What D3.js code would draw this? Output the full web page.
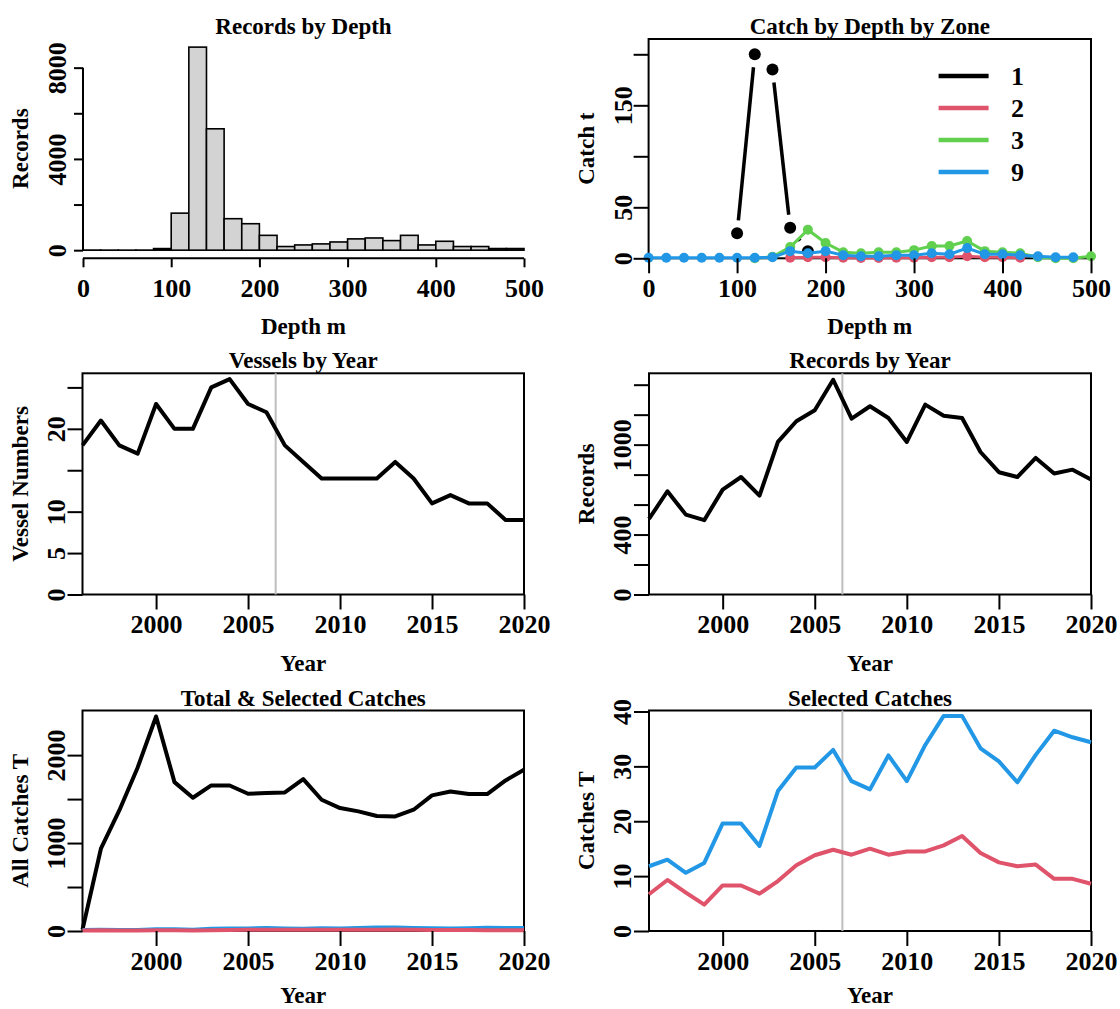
<!DOCTYPE html>
<html><head><meta charset="utf-8">
<script src="https://cdn.jsdelivr.net/npm/d3@7/dist/d3.min.js"></script>
<style>
body{margin:0;background:#fff}
svg text{font-family:"Liberation Serif","Times New Roman",serif;font-weight:bold;fill:#000}
</style>
</head><body>
<svg id="chart" width="1120" height="1009"></svg>
<script>
// ---------------- DATA ----------------
const depthBinStarts = [0,20,40,60,80,100,120,140,160,180,200,220,240,260,280,300,320,340,360,380,400,420,440,460,480];
const depthBinWidth = 20;
const depthCounts = [5,3,2,4,70,1623,8900,5320,1380,1160,650,160,230,275,360,495,535,420,650,230,390,160,160,72,72];

const zone1Depth = [100,120,140,160,180];
const zone1Catch = [24.5,200,185,30,7];
const zone2Depth = [160,180,200,220,240,260,280,300,320,340,360,380,400,420];
const zone2Catch = [0.5,1,1,0.5,0.3,0.3,0.5,0.5,1,1,2,1,1,0.5];
const zone3Depth = [120,140,160,180,200,220,240,260,280,300,320,340,360,380,400,420,440,460,480,500];
const zone3Catch = [0,1.5,11,28,15,6,5,6,6,8,12,12,17,7,6,5,1,0,0,2];
const zone9Depth = [0,20,40,60,80,100,120,140,160,180,200,220,240,260,280,300,320,340,360,380,400,420,440,460,480];
const zone9Catch = [0.5,0.5,0.5,0.5,0.5,0.5,0.5,1,7,5,7,3,2,2,3,3,5,4,10,4,4,3,2,1,1];
const zoneNames = ["1","2","3","9"];
const zoneColors = ["#000000","#DF536B","#61D04F","#2297E6"];

const years = [1996,1997,1998,1999,2000,2001,2002,2003,2004,2005,2006,2007,2008,2009,2010,2011,2012,2013,2014,2015,2016,2017,2018,2019,2020];
const vessels = [18,21,18,17,23,20,20,25,26,23,22,18,16,14,14,14,14,16,14,11,12,11,11,9,9];
const recordsByYear = [504,689,533,496,700,784,660,1018,1156,1229,1433,1173,1256,1178,1018,1267,1193,1178,951,816,784,911,807,833,767];
const totalCatch = [15,936,1371,1860,2439,1693,1515,1655,1655,1561,1568,1576,1727,1492,1398,1360,1307,1303,1379,1542,1587,1557,1557,1712,1833];
const zone9Selected = [11.8,13.0,10.6,12.4,19.6,19.6,15.5,25.5,29.8,29.8,33.0,27.3,25.8,32.0,27.3,33.9,39.2,39.2,33.3,30.9,27.1,32.1,36.5,35.3,34.4];
const zone2Selected = [6.7,9.3,7.0,4.8,8.3,8.3,6.8,9.1,12.0,13.8,14.8,13.9,15.0,13.9,14.5,14.5,15.6,17.3,14.2,12.5,11.8,12.1,9.5,9.5,8.6];
const refYear = 2006.5;

const depthTicks = [0,100,200,300,400,500];
const yearTicks = [2000,2005,2010,2015,2020];
const histYTicks = [0,2000,4000,6000,8000], histYLabels = [0,4000,8000];
const catchDepthYTicks = [0,50,100,150,200], catchDepthYLabels = [0,50,150];
const vesselYTicks = [0,5,10,15,20,25], vesselYLabels = [0,5,10,20];
const recordYTicks = [0,200,400,600,800,1000,1200,1400], recordYLabels = [0,400,1000];
const totalYTicks = [0,500,1000,1500,2000], totalYLabels = [0,1000,2000];
const selYTicks = [0,10,20,30,40], selYLabels = [0,10,20,30,40];

// ---------------- DRAW ----------------
const svg = d3.select("#chart");
const TICK = 15, TITLE_FS = 23, TICK_FS = 26;

function panel(p){
  const g = svg.append("g");
  g.append("text").attr("x",(p.l+p.r)/2).attr("y",p.t-5).attr("text-anchor","middle")
    .style("font-size",TITLE_FS+"px").text(p.title);
  g.append("text").attr("x",(p.l+p.r)/2).attr("y",Math.min(p.b+76,1003)).attr("text-anchor","middle")
    .style("font-size",TITLE_FS+"px").text(p.xlab);
  g.append("text").attr("transform",`translate(${p.l-55},${(p.t+p.b)/2}) rotate(-90)`).attr("text-anchor","middle")
    .style("font-size",TITLE_FS+"px").text(p.ylab);
  return g;
}

function xAxis(g, x, yPos, ticks, tlen){
  const ax = d3.axisBottom(x).tickValues(ticks).tickSize(tlen).tickSizeOuter(0).tickFormat(d3.format("d"));
  const a = g.append("g").attr("transform",`translate(0,${yPos})`).call(ax);
  a.select(".domain").remove();
  a.selectAll(".tick line").attr("stroke","#000").attr("stroke-width",2);
  a.selectAll(".tick text").attr("y",38.5).attr("dy",null).style("font-size",TICK_FS+"px")
    .style("font-family",'"Liberation Serif",serif').style("font-weight","bold").attr("fill","#000");
  return a;
}
function yAxis(g, y, xPos, ticks, labels, tlen, off){
  const ax = d3.axisLeft(y).tickValues(ticks).tickSize(tlen).tickSizeOuter(0)
    .tickFormat(d => labels.includes(d) ? String(d) : "");
  const a = g.append("g").attr("transform",`translate(${xPos},0)`).call(ax);
  a.select(".domain").remove();
  a.selectAll(".tick line").attr("stroke","#000").attr("stroke-width",2);
  a.selectAll(".tick text").attr("x",null).attr("dy",null).attr("text-anchor","middle")
    .attr("transform",`translate(${-off},0) rotate(-90)`).style("font-size",TICK_FS+"px")
    .style("font-family",'"Liberation Serif",serif').style("font-weight","bold").attr("fill","#000");
  return a;
}
function box(g,p){
  g.append("rect").attr("x",p.l).attr("y",p.t).attr("width",p.r-p.l).attr("height",p.b-p.t)
    .attr("fill","none").attr("stroke","#000").attr("stroke-width",2);
}
function refLine(g,x,p){
  g.append("line").attr("x1",x(refYear)).attr("x2",x(refYear)).attr("y1",p.t).attr("y2",p.b)
    .attr("stroke","#bebebe").attr("stroke-width",2);
}
function seriesLine(g,x,y,xs,ys,color,w){
  const line = d3.line().x((d,i)=>x(xs[i])).y(d=>y(d));
  g.append("path").datum(ys).attr("d",line).attr("fill","none").attr("stroke",color)
    .attr("stroke-width",w).attr("stroke-linejoin","round").attr("stroke-linecap","butt");
}

// ---- Panel 1: Records by Depth (histogram)
{
  const p = {l:83,r:524,t:39,b:258.3,title:"Records by Depth",xlab:"Depth m",ylab:"Records"};
  const g = panel(p);
  const m = d3.max(depthCounts);
  const x = d3.scaleLinear().domain([0,500]).range([p.l,p.r]);
  const y = d3.scaleLinear().domain([-0.04*m,1.04*m]).range([p.b,p.t]);
  g.selectAll("rect.bar").data(depthCounts).join("rect").attr("class","bar")
    .attr("x",(d,i)=>x(depthBinStarts[i])).attr("width",(d,i)=>x(depthBinStarts[i]+depthBinWidth)-x(depthBinStarts[i]))
    .attr("y",d=>y(d)).attr("height",d=>y(0)-y(d))
    .attr("fill","#d3d3d3").attr("stroke","#000").attr("stroke-width",1.6);
  xAxis(g,x,p.b,depthTicks,9);
  g.append("line").attr("x1",x(0)).attr("x2",x(500)).attr("y1",p.b).attr("y2",p.b).attr("stroke","#000").attr("stroke-width",2);
  yAxis(g,y,p.l,histYTicks,histYLabels,9,17);
  g.append("line").attr("x1",p.l).attr("x2",p.l).attr("y1",y(0)).attr("y2",y(8000)).attr("stroke","#000").attr("stroke-width",2);
}

// ---- Panel 2: Catch by Depth by Zone
{
  const p = {l:648.6,r:1091,t:39,b:258.3,title:"Catch by Depth by Zone",xlab:"Depth m",ylab:"Catch t"};
  const g = panel(p);
  const x = d3.scaleLinear().domain([0,500]).range([p.l,p.r]);
  const y = d3.scaleLinear().domain([0,d3.max(zone1Catch)*1.075]).range([p.b,p.t]);
  box(g,p);
  const gap = 13;
  for(let i=0;i<zone1Depth.length-1;i++){
    const x0=x(zone1Depth[i]),y0=y(zone1Catch[i]),x1=x(zone1Depth[i+1]),y1=y(zone1Catch[i+1]);
    const dx=x1-x0,dy=y1-y0,f=Math.hypot(dx,dy);
    if(f>2*gap){
      g.append("line").attr("x1",x0+gap*dx/f).attr("y1",y0+gap*dy/f).attr("x2",x1-gap*dx/f).attr("y2",y1-gap*dy/f)
        .attr("stroke","#000").attr("stroke-width",3.5);
    }
  }
  g.selectAll("circle.z1").data(zone1Catch).join("circle").attr("class","z1")
    .attr("cx",(d,i)=>x(zone1Depth[i])).attr("cy",d=>y(d)).attr("r",6).attr("fill","#000");
  const others = [[zone2Depth,zone2Catch,zoneColors[1]],[zone3Depth,zone3Catch,zoneColors[2]],[zone9Depth,zone9Catch,zoneColors[3]]];
  others.forEach(([xs,ys,c])=>{
    seriesLine(g,x,y,xs,ys,c,3);
    g.selectAll(null).data(ys).join("circle").attr("cx",(d,i)=>x(xs[i])).attr("cy",d=>y(d)).attr("r",5).attr("fill",c);
  });
  xAxis(g,x,p.b,depthTicks,TICK);
  yAxis(g,y,p.l,catchDepthYTicks,catchDepthYLabels,TICK,17);
  const lg = g.append("g");
  zoneNames.forEach((n,i)=>{
    const yy = 76 + i*32;
    lg.append("line").attr("x1",938.6).attr("x2",988.6).attr("y1",yy).attr("y2",yy)
      .attr("stroke",zoneColors[i]).attr("stroke-width",4.5);
    lg.append("text").attr("x",1011).attr("y",yy+9).style("font-size",TICK_FS+"px").text(n);
  });
}

// ---- year panels
function yearPanel(p, seriesList, yTicks, yLabels, ymax, withRef){
  const g = panel(p);
  const x = d3.scaleLinear().domain([1996,2020]).range([p.l,p.r]);
  const y = d3.scaleLinear().domain([0,ymax]).range([p.b,p.t]);
  box(g,p);
  if(withRef) refLine(g,x,p);
  seriesList.forEach(([ys,c])=>seriesLine(g,x,y,years,ys,c,4));
  xAxis(g,x,p.b,yearTicks,TICK);
  yAxis(g,y,p.l,yTicks,yLabels,TICK,18);
}
yearPanel({l:82.5,r:524,t:373.3,b:594.5,title:"Vessels by Year",xlab:"Year",ylab:"Vessel Numbers"},
  [[vessels,"#000"]], vesselYTicks, vesselYLabels, d3.max(vessels)*1.027, true);
yearPanel({l:649,r:1091,t:373.3,b:594.5,title:"Records by Year",xlab:"Year",ylab:"Records"},
  [[recordsByYear,"#000"]], recordYTicks, recordYLabels, d3.max(recordsByYear)*1.03, true);
yearPanel({l:82.5,r:524,t:710.5,b:931,title:"Total & Selected Catches",xlab:"Year",ylab:"All Catches T"},
  [[totalCatch,"#000"],[zone9Selected,zoneColors[3]],[zone2Selected,zoneColors[1]]], totalYTicks, totalYLabels, d3.max(totalCatch)*1.028, false);
yearPanel({l:649,r:1091,t:710.5,b:931,title:"Selected Catches",xlab:"Year",ylab:"Catches T"},
  [[zone9Selected,zoneColors[3]],[zone2Selected,zoneColors[1]]], selYTicks, selYLabels, d3.max(zone9Selected)*1.025, true);
</script>
</body></html>
